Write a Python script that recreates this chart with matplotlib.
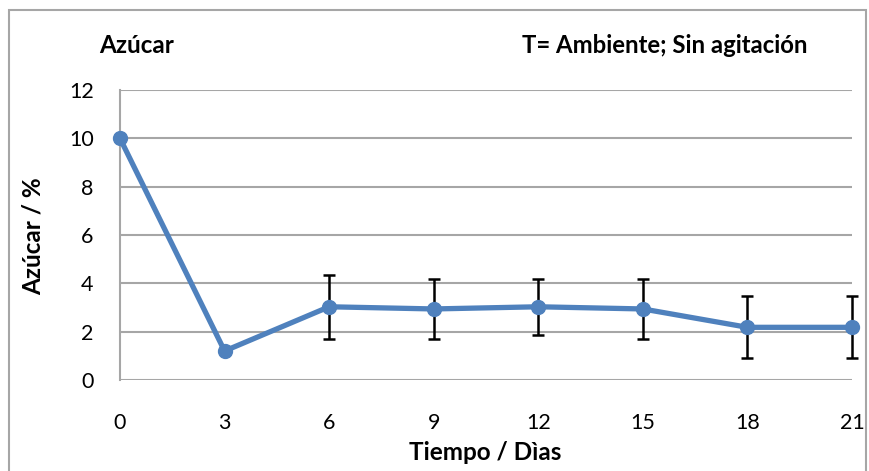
import numpy as np
import matplotlib
matplotlib.use("Agg")
import matplotlib.pyplot as plt
from matplotlib.patches import Rectangle

# datos
dias = ["0", "3", "6", "9", "12", "15", "18", "21"]
azucar = [10.0, 1.2, 3.03, 2.94, 3.03, 2.94, 2.18, 2.18]
error = [0, 0, 1.32, 1.23, 1.17, 1.23, 1.28, 1.28]
yticks = [0, 2, 4, 6, 8, 10, 12]

plt.rcParams['font.family'] = ['Lato', 'DejaVu Sans']

fig = plt.figure(figsize=(8.7, 4.71), dpi=100)
ax = fig.add_axes([120/870, 1 - 380/471, 732/870, 290/471])

x = np.arange(len(dias))
yerr = np.array(error)
mask = yerr > 0
eb = ax.errorbar(x[mask], np.array(azucar)[mask], yerr=yerr[mask], fmt='none',
                 ecolor='black', elinewidth=1.8, capsize=4.5, capthick=1.8,
                 zorder=2)
for art in eb.lines[1] + eb.lines[2]:
    art.set_clip_on(False)
ax.plot(x, azucar, color='#4F81BD', linewidth=3.8, marker='o', markersize=10,
        zorder=3, clip_on=False)

ax.set_xlim(0, len(dias) - 1)
ax.set_ylim(0, 12)
ax.set_xticks(x)
ax.set_xticklabels(dias)
ax.set_yticks(yticks)
ax.tick_params(length=0, labelsize=15.5)
ax.tick_params(axis='x', pad=24)
ax.tick_params(axis='y', pad=19)
ax.grid(axis='y', color='#A6A6A6', linewidth=1.5)
ax.set_axisbelow(True)
for s in ['top', 'right', 'bottom']:
    ax.spines[s].set_visible(False)
ax.spines['left'].set_color('#A6A6A6')
ax.spines['left'].set_linewidth(1.5)

fig.text(485/870, 1 - 453/471, 'Tiempo / Dìas', ha='center', va='center',
         fontsize=17.5, fontweight='bold')
fig.text(33/870, 1 - 236/471, 'Azúcar / %', ha='center', va='center',
         rotation=90, fontsize=17.5, fontweight='bold')
fig.text(99/870, 1 - 53/471, 'Azúcar', ha='left', va='baseline',
         fontsize=17.5, fontweight='bold')
fig.text(522/870, 1 - 53/471, 'T= Ambiente; Sin agitación', ha='left',
         va='baseline', fontsize=17.2, fontweight='bold')

# borde exterior
fig.patches.append(Rectangle((9/870, -0.05), 857/870, 1.05 - 10/471,
                             transform=fig.transFigure, fill=False,
                             edgecolor='#A6A6A6', linewidth=1.5))

fig.savefig('out.png', dpi=100)
